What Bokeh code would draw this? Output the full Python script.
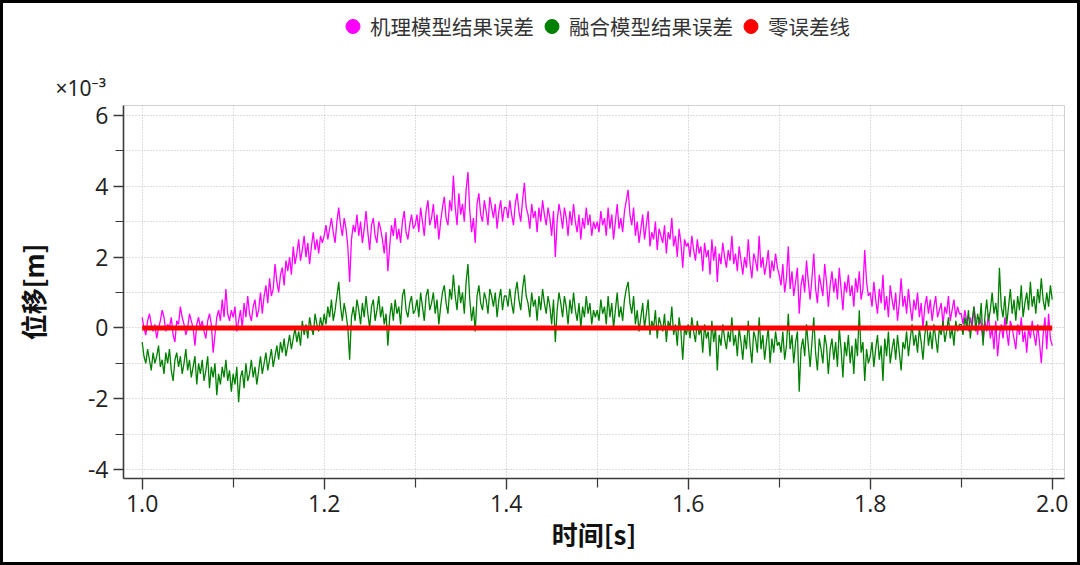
import numpy as np
from bokeh.plotting import figure
from bokeh.layouts import column
from bokeh.models import (Range1d, FixedTicker, PrintfTickFormatter, Legend,
                          LegendItem)
from bokeh.embed import file_html
from bokeh.resources import INLINE

# ---------------- data (displacement error, unit: 1e-3 m) ----------------
series_names = ["机理模型结果误差", "融合模型结果误差", "零误差线"]
x_title = "时间[s]"
y_title = "位移[m]"
scale_label = "×10⁻³"

t_start = 1.0
t_end = 2.0

x_major_ticks = [1.0, 1.2, 1.4, 1.6, 1.8, 2.0]
x_minor_ticks = [1.1, 1.3, 1.5, 1.7, 1.9]
y_major_ticks = [-4, -2, 0, 2, 4, 6]
y_minor_ticks = [-3, -1, 1, 3, 5]

# mechanism model result error (one row per 0.1 s)
mech_err = [
    0.3, 0.0, -0.2, 0.2, 0.4, 0.1, -0.1, 0.1, -0.3, 0.0, 0.2, 0.5, 0.3, -0.1, 0.1, 0.0, 0.3, -0.2, -0.4, 0.2,
    0.1, 0.6, 0.3, 0.1, -0.2, 0.0, 0.4, 0.2, 0.0, -0.5, 0.1, 0.3, 0.0, 0.2, -0.1, -0.3, 0.2, 0.4, 0.1, -0.7,
    -0.2, 0.3, 0.5, 0.2, 0.8, 0.3, 1.1, 0.4, 0.2, 0.5,
    0.3, 0.6, -0.1, 0.2, 0.5, 0.0, 0.7, 0.3, 0.9, 0.4, 0.2, 0.6, 0.8, 0.3, 0.5, 1.0, 0.4, 0.9, 1.2, 0.7,
    1.4, 0.9, 1.1, 1.8, 1.3, 1.0, 1.5, 1.7, 1.2, 1.9, 1.6, 2.0, 1.5, 2.3, 1.8, 2.1, 2.5, 1.9, 2.2, 2.6,
    2.0, 2.4, 1.8, 2.3, 2.7, 2.2, 2.5, 2.1, 2.6, 2.4,
    2.6, 2.9, 2.5, 2.8, 3.1, 2.7, 2.4, 3.0, 3.4, 2.9, 2.6, 3.1, 2.8, 2.3, 1.3, 2.5, 2.9, 2.7, 3.2, 2.6,
    3.0, 2.4, 2.8, 3.3, 2.7, 2.2, 2.9, 3.1, 2.6, 2.4, 3.0, 2.8, 2.5, 2.1, 2.7, 1.6, 2.3, 2.9, 2.6, 3.1,
    2.5, 2.8, 2.4, 3.0, 3.3, 2.7, 2.5, 2.9, 3.2, 2.8,
    2.9, 3.2, 2.7, 3.4, 3.0, 2.6, 3.3, 3.6, 2.9, 3.1, 3.5, 2.8, 3.2, 2.5, 3.0, 3.4, 3.7, 3.1, 2.9, 3.6,
    3.3, 4.3, 3.4, 2.9, 3.8, 3.2, 3.5, 3.0, 3.9, 4.4, 3.3, 2.7, 3.1, 2.4, 3.5, 3.8, 3.2, 3.0, 3.6, 3.3,
    2.9, 3.7, 3.4, 3.1, 3.5, 2.8, 3.3, 3.6, 3.0, 3.4,
    3.4, 3.1, 3.6, 3.2, 2.9, 3.5, 3.8, 3.3, 3.0, 3.6, 4.1, 3.4, 3.2, 2.8, 3.5, 3.1, 3.3, 2.7, 3.4, 3.0,
    3.6, 3.2, 2.9, 3.4, 3.1, 2.6, 3.3, 2.0, 3.0, 3.5, 3.2, 2.8, 3.4, 3.1, 2.6, 3.3, 2.9, 3.5, 3.0, 2.7,
    3.2, 2.5, 3.1, 2.8, 3.4, 2.9, 3.2, 2.6, 3.0, 2.8,
    3.0, 2.7, 3.3, 2.9, 3.1, 2.6, 3.4, 2.8, 3.2, 2.5, 3.0, 3.5, 2.8, 3.1, 2.7, 3.3, 3.6, 3.9, 3.2, 2.9,
    3.4, 2.6, 3.0, 2.4, 2.8, 3.2, 2.5, 2.9, 3.3, 2.3, 2.7, 2.5, 3.0, 2.2, 2.8, 2.6, 2.4, 2.9, 2.1, 2.7,
    2.5, 3.1, 2.3, 2.6, 2.0, 2.8, 2.4, 1.7, 2.5, 2.3,
    2.4, 2.0, 2.6, 2.2, 1.9, 2.5, 2.1, 2.3, 1.6, 2.4, 2.0, 2.2, 1.5, 2.5, 1.9, 2.3, 1.3, 2.1, 1.8, 2.4,
    2.0, 1.7, 2.2, 1.9, 2.6, 1.8, 2.1, 1.6, 2.3, 1.9, 1.5, 2.0, 1.7, 2.5, 1.8, 1.4, 2.1, 1.9, 1.6, 2.6,
    1.7, 2.0, 1.5, 1.8, 2.2, 1.4, 1.9, 1.6, 2.1, 1.7,
    1.5, 1.2, 1.8, 1.0, 1.4, 2.3, 1.1, 1.6, 0.9, 1.3, 1.7, 0.4, 1.2, 1.5, 1.0, 1.9, 1.3, 0.8, 1.4, 2.1,
    1.1, 0.7, 1.5, 1.2, 0.9, 1.8, 1.3, 0.6, 1.2, 1.6, 1.0, 1.4, 0.8, 1.7, 1.1, 0.5, 1.3, 1.0, 1.5, 0.9,
    1.2, 0.6, 1.4, 1.0, 1.6, 0.8, 1.1, 2.2, 1.3, 0.9,
    1.0, 0.6, 1.3, 0.8, 0.4, 1.1, 0.7, 1.5, 0.5, 0.9, 0.3, 1.2, 0.8, 0.5, 1.0, 0.2, 0.7, 1.4, 0.6, 0.9,
    0.4, 1.1, 0.6, 0.2, 0.8, 0.5, 1.0, 0.3, 0.7, 0.0, 0.6, 0.9, 0.4, 0.8, 0.2, 0.6, 0.9, 0.3, 0.5, 0.7,
    0.1, 0.6, 0.4, 0.9, 0.2, 0.5, 0.8, 0.3, 0.6, 0.4,
    0.4, 0.1, 0.5, 0.2, -0.1, 0.3, 0.0, 0.6, 0.2, -0.2, 0.3, 0.1, -0.4, 0.2, -0.1, 0.4, -0.3, 0.0, -0.6, 0.2,
    -0.8, -0.2, 0.1, -0.3, 0.3, -0.1, -0.5, 0.2, 0.0, -0.3, -0.6, 0.1, -0.2, 0.3, -0.4, -0.1, -0.7, 0.0, -0.3, 0.2,
    -0.2, -0.5, 0.1, -0.4, -1.0, -0.2, 0.3, -0.6, 0.4, -0.3, -0.5,
]

# fusion model result error (one row per 0.1 s)
fusion_err = [
    -0.4, -0.8, -1.0, -0.6, -0.9, -1.2, -0.7, -1.0, -0.8, -0.5, -1.1, -0.9, -1.3, -0.7, -1.0, -0.6, -1.2, -1.5, -0.9, -0.7,
    -1.1, -0.8, -1.3, -1.0, -0.6, -1.2, -0.9, -1.4, -1.1, -0.8, -1.6, -1.0, -1.3, -0.9, -1.5, -1.2, -0.8, -1.7, -1.1, -1.4,
    -1.0, -1.9, -1.3, -1.6, -1.1, -1.4, -0.9, -1.5, -1.2, -1.8,
    -1.3, -1.6, -1.1, -2.1, -1.4, -1.2, -1.7, -1.0, -1.5, -1.3, -0.9, -1.4, -1.1, -1.6, -1.2, -0.8, -1.3, -1.0, -0.7, -1.2,
    -0.9, -0.6, -1.1, -0.8, -0.5, -0.9, -0.4, -0.7, -0.3, -0.8, -0.5, -0.2, -0.6, -0.3, 0.0, -0.4, -0.1, -0.5, 0.2, -0.2,
    0.1, -0.3, 0.3, 0.0, -0.2, 0.4, 0.1, -0.1, 0.3, 0.0,
    0.4, 0.1, 0.6, 0.3, 0.8, 0.2, 0.5, 0.9, 1.3, 0.6, 0.2, 0.7, 0.4, 0.0, -0.9, 0.3, 0.6, 0.2, 0.8, 0.5,
    0.1, 0.7, 0.3, 0.9, 0.4, 0.0, 0.6, 0.8, 0.2, 0.5, 0.9, 0.3, 0.6, 0.1, 0.4, -0.5, 0.3, 0.7, 0.2, 0.8,
    0.4, 0.6, 0.1, 0.9, 1.1, 0.5, 0.3, 0.7, 0.9, 0.4,
    0.5, 0.8, 0.3, 1.0, 0.6, 0.2, 0.9, 1.1, 0.5, 0.7, 1.0, 0.4, 0.8, 0.1, 0.6, 1.0, 1.2, 0.7, 0.4, 1.1,
    0.8, 1.5, 0.9, 0.5, 1.2, 0.7, 1.0, 0.4, 1.3, 1.8, 0.8, 0.2, 0.6, -0.1, 0.9, 1.2, 0.7, 0.5, 1.0, 0.8,
    0.4, 1.1, 0.9, 0.6, 1.0, 0.3, 0.8, 1.1, 0.5, 0.9,
    0.9, 0.6, 1.1, 0.7, 0.4, 1.0, 1.3, 0.8, 0.5, 1.1, 1.5, 0.9, 0.7, 0.3, 1.0, 0.6, 0.8, 0.2, 0.9, 0.5,
    1.1, 0.7, 0.4, 0.9, 0.6, 0.1, 0.8, -0.4, 0.5, 1.0, 0.7, 0.3, 0.9, 0.6, 0.1, 0.8, 0.4, 1.0, 0.5, 0.2,
    0.7, 0.0, 0.6, 0.3, 0.9, 0.4, 0.7, 0.1, 0.5, 0.3,
    0.5, 0.2, 0.8, 0.4, 0.6, 0.1, 0.9, 0.3, 0.7, 0.0, 0.5, 1.0, 0.3, 0.6, 0.2, 0.8, 1.1, 1.3, 0.7, 0.4,
    0.9, 0.1, 0.5, -0.1, 0.3, 0.7, 0.0, 0.4, 0.8, -0.2, 0.2, 0.0, 0.5, -0.3, 0.3, 0.1, -0.1, 0.4, -0.4, 0.2,
    0.0, 0.6, -0.2, 0.1, -0.5, 0.3, -0.1, -0.9, 0.0, -0.2,
    0.1, -0.3, 0.3, -0.1, -0.4, 0.2, -0.2, 0.0, -0.7, 0.1, -0.3, -0.1, -0.8, 0.2, -0.4, 0.0, -1.2, -0.2, -0.5, 0.1,
    -0.3, -0.6, -0.1, -0.4, 0.3, -0.5, -0.2, -0.8, 0.0, -0.4, -0.9, -0.2, -0.6, 0.2, -0.5, -1.0, -0.1, -0.3, -0.7, 0.3,
    -0.6, -0.2, -0.9, -0.4, 0.0, -1.0, -0.3, -0.7, -0.1, -0.5,
    -0.4, -0.7, -0.1, -0.9, -0.5, 0.4, -0.6, -0.2, -1.0, -0.4, -0.1, -1.8, -0.6, -0.3, -0.8, 0.1, -0.5, -1.1, -0.4, 0.3,
    -0.7, -1.2, -0.3, -0.6, -1.0, -0.2, -0.5, -1.3, -0.6, -0.3, -0.9, -0.4, -1.1, 0.0, -0.6, -1.4, -0.4, -0.8, -0.2, -1.0,
    -0.5, -1.3, -0.3, -0.8, 0.5, -0.7, -0.4, -1.5, -0.6, -1.0,
    -0.8, -0.4, -1.1, -0.6, -0.2, -0.9, -0.5, -1.5, -0.3, -0.8, -0.1, -1.0, -0.6, -0.3, -0.9, -0.2, -0.7, -1.2, -0.4, -0.6,
    -0.1, -0.8, -0.3, 0.1, -0.5, -0.2, -0.7, 0.0, -0.4, -0.9, -0.2, 0.2, -0.5, -0.1, -0.6, 0.1, -0.3, -0.7, 0.0, -0.2,
    0.2, -0.4, -0.1, 0.3, -0.3, 0.0, -0.5, 0.2, -0.1, 0.1,
    0.1, -0.2, 0.3, 0.0, 0.5, -0.3, 0.2, 0.6, -0.1, 0.4, 0.1, 0.7, -0.5, 0.3, 0.8, 0.2, 0.5, 1.0, 0.4, 0.7,
    0.2, 1.7, 0.6, 0.3, 0.9, 0.1, 0.6, 1.1, 0.4, 0.8, 0.2, 0.9, 0.5, 1.2, 0.3, 0.7, 1.0, 0.5, 1.3, 0.6,
    0.9, 0.4, 1.1, 0.7, 1.4, 0.8, 0.5, 1.0, 0.6, 1.2, 0.8,
]

# zero error reference line
zero_t = [1.0, 2.0]
zero_err = [0.0, 0.0]

colors = ["#FF00FF", "#008000", "#FF0000"]

mech_t = np.linspace(t_start, t_end, len(mech_err))
fusion_t = np.linspace(t_start, t_end, len(fusion_err))

CJK = "Noto Sans CJK SC"
NUM = "Open Sans"
W = 1074
HEAD_H = 64
MAIN_H = 495

# ---------------- header figure (legend) ----------------
head = figure(width=W, height=HEAD_H, output_backend="svg",
              toolbar_location=None, x_range=Range1d(0, 1),
              y_range=Range1d(0, 1), x_axis_location=None,
              y_axis_location=None, min_border=0,
              background_fill_color="white", border_fill_color="white")
head.outline_line_color = None
head.grid.visible = False

# legend proxies (circle markers as in the reference legend), no visible data
proxies = [head.scatter(x=[np.nan], y=[np.nan], marker="circle", size=15,
                        fill_color=c, line_color=c) for c in colors]

legend = Legend(items=[LegendItem(label=n, renderers=[r])
                       for n, r in zip(series_names, proxies)],
                location=(212, 22), orientation="horizontal",
                glyph_width=35, glyph_height=38, label_standoff=0, spacing=0,
                padding=0, margin=0, border_line_color=None,
                background_fill_alpha=0,
                label_text_font=CJK, label_text_font_size="20.5px",
                label_text_color="#333333")
head.add_layout(legend, "center")

# ---------------- main figure ----------------
p = figure(width=W, height=MAIN_H, output_backend="svg", toolbar_location=None,
           x_range=Range1d(0.9795, 2.0135), y_range=Range1d(-4.253, 6.28),
           min_border_left=120, min_border_right=13, min_border_top=0,
           min_border_bottom=84, background_fill_color="white",
           border_fill_color="white")

p.outline_line_color = "#d0d0d0"
p.outline_line_width = 1

# scale factor  x10^-3 shown in the title slot, left of the frame
p.title.text = scale_label
p.title.text_font = "Noto Sans"
p.title.text_font_size = "21px"
p.title.text_font_style = "normal"
p.title.text_color = "#222222"
p.title.align = "left"
p.title.offset = -68
p.title.standoff = 8

p.line(mech_t, mech_err, line_color=colors[0], line_width=1.3)
p.line(fusion_t, fusion_err, line_color=colors[1], line_width=1.3)
p.line(zero_t, zero_err, line_color=colors[2], line_width=5)

for ax in (p.xaxis[0], p.yaxis[0]):
    ax.axis_line_color = "#3a3a3a"
    ax.axis_line_width = 1.6
    ax.major_tick_line_color = "#3a3a3a"
    ax.minor_tick_line_color = "#3a3a3a"
    ax.major_tick_line_width = 1.4
    ax.minor_tick_line_width = 1.2
    ax.major_tick_in = 0
    ax.minor_tick_in = 0
    ax.major_label_text_font = NUM
    ax.major_label_text_font_size = "23px"
    ax.major_label_text_color = "#222222"
    ax.major_label_standoff = 5
    ax.axis_label_text_font = CJK
    ax.axis_label_text_font_size = "26px"
    ax.axis_label_text_font_style = "bold"
    ax.axis_label_text_color = "#111111"

p.xaxis.ticker = FixedTicker(ticks=x_major_ticks, minor_ticks=x_minor_ticks)
p.yaxis.ticker = FixedTicker(ticks=y_major_ticks, minor_ticks=y_minor_ticks)
p.xaxis.formatter = PrintfTickFormatter(format="%.1f")
p.yaxis.formatter = PrintfTickFormatter(format="%d")
p.xaxis.major_tick_out = 11
p.xaxis.minor_tick_out = 9
p.yaxis.major_tick_out = 10
p.yaxis.minor_tick_out = 8
p.xaxis.axis_label = x_title
p.yaxis.axis_label = y_title
p.xaxis.axis_label_standoff = 0
p.yaxis.axis_label_standoff = 34

for g in (p.xgrid[0], p.ygrid[0]):
    g.grid_line_color = "#bdbdbd"
    g.grid_line_dash = "1 2"
    g.grid_line_width = 1
    g.minor_grid_line_color = "#bdbdbd"
    g.minor_grid_line_dash = "1 2"
    g.minor_grid_line_width = 1

layout = column(head, p, spacing=0,
                styles={"border": "3px solid #000000",
                        "background-color": "white"})

open("out.html", "w").write(file_html(layout, INLINE))
